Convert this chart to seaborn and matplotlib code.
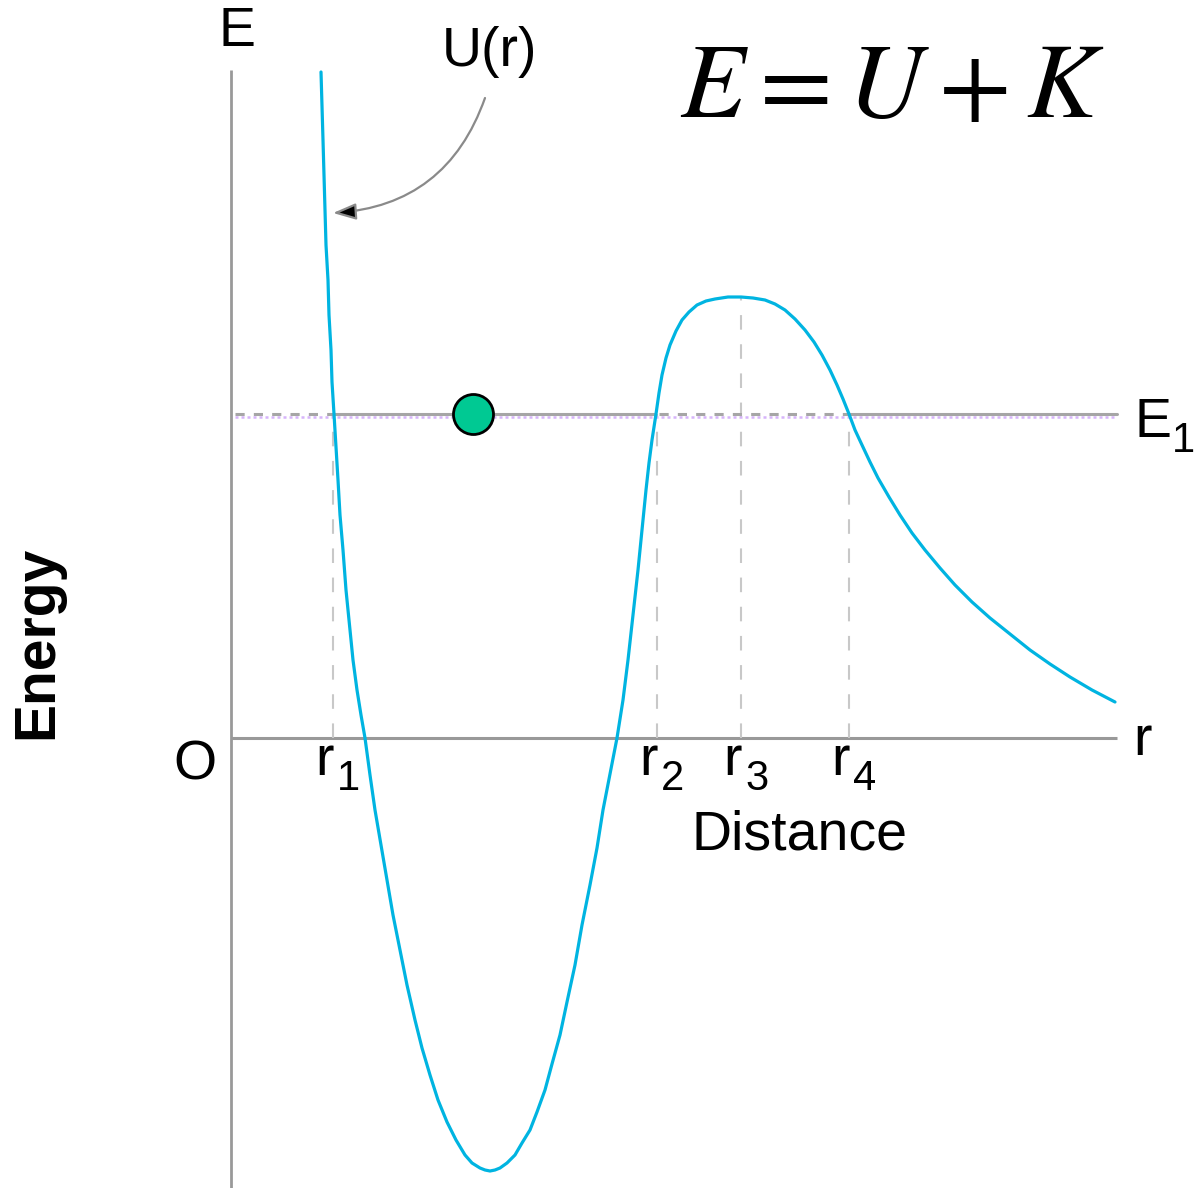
import matplotlib
matplotlib.use("Agg")
import matplotlib.pyplot as plt
import seaborn as sns
import pandas as pd

# Potential energy curve U(r): distance (x) and energy (y), origin at O
r_vals = [0.90, 0.91, 0.92, 0.93, 0.94, 0.95, 0.97, 0.98, 1.00, 1.01, 1.03, 1.05,
          1.07, 1.09, 1.12, 1.15, 1.19, 1.22, 1.26, 1.30, 1.34, 1.39, 1.44, 1.50,
          1.56, 1.62, 1.69, 1.76, 1.84, 1.91, 1.99, 2.07, 2.16, 2.25, 2.34, 2.41,
          2.49, 2.54, 2.59, 2.64, 2.69, 2.76, 2.84, 2.91, 2.99, 3.06, 3.14, 3.21,
          3.29, 3.36, 3.44, 3.51, 3.59, 3.66, 3.72, 3.79, 3.86, 3.92, 3.97, 4.02,
          4.07, 4.11, 4.15, 4.18, 4.21, 4.23, 4.25, 4.28, 4.31, 4.35, 4.39, 4.45,
          4.51, 4.58, 4.66, 4.75, 4.84, 4.97, 5.10, 5.22, 5.34, 5.44, 5.54, 5.64,
          5.74, 5.83, 5.91, 5.99, 6.06, 6.12, 6.18, 6.24, 6.31, 6.39, 6.47, 6.58,
          6.69, 6.81, 6.94, 7.09, 7.24, 7.41, 7.59, 7.79, 7.99, 8.19, 8.39, 8.61,
          8.84]
u_vals = [6.66, 6.32, 5.98, 5.63, 5.28, 4.93, 4.58, 4.23, 3.88, 3.56, 3.24, 2.91,
          2.58, 2.23, 1.88, 1.48, 1.08, 0.78, 0.48, 0.23, 0.00, -0.37, -0.72, -1.07,
          -1.42, -1.77, -2.12, -2.47, -2.82, -3.10, -3.37, -3.62, -3.84, -4.02, -4.17, -4.25,
          -4.30, -4.32, -4.33, -4.32, -4.30, -4.25, -4.17, -4.05, -3.92, -3.74, -3.52, -3.26,
          -2.97, -2.64, -2.27, -1.87, -1.47, -1.10, -0.72, -0.36, 0.00, 0.38, 0.78, 1.23,
          1.68, 2.08, 2.48, 2.75, 2.98, 3.11, 3.24, 3.45, 3.63, 3.80, 3.93, 4.07,
          4.18, 4.26, 4.33, 4.37, 4.39, 4.41, 4.41, 4.40, 4.38, 4.34, 4.28, 4.19,
          4.08, 3.96, 3.83, 3.68, 3.53, 3.39, 3.24, 3.08, 2.93, 2.76, 2.60, 2.41,
          2.23, 2.05, 1.88, 1.70, 1.53, 1.36, 1.20, 1.04, 0.88, 0.74, 0.61, 0.48,
          0.36]

# Energy level and turning points
E1 = 3.24
r_ticks = [1.02, 4.26, 5.10, 6.18]
r_tick_tops = [3.24, 3.24, 4.40, 3.24]
r_tick_labels = ["1", "2", "3", "4"]
particle_r = 2.42

sns.set_theme(style="white")
plt.rcParams["font.family"] = ["Liberation Sans", "DejaVu Sans"]
plt.rcParams["text.color"] = "black"

fig = plt.figure(figsize=(11.94, 11.88), dpi=100)
ax = fig.add_axes([0, 0, 1, 1])
ax.set_xlim(-2.31, 9.63)
ax.set_ylim(-4.50, 7.38)
ax.axis("off")

axis_gray = "#999999"
# Coordinate axes
ax.plot([0, 0], [-4.50, 6.68], color=axis_gray, lw=2.0, solid_capstyle="butt")
ax.plot([0, 8.86], [0, 0], color=axis_gray, lw=2.2, solid_capstyle="butt")

# Dashed guides from the r axis up to the turning points / barrier top
for rt, top in zip(r_ticks, r_tick_tops):
    ax.plot([rt, rt], [0, top], color="#C8C8C8", lw=1.5, dashes=(7, 7))

# Energy level E1: lavender dotted along the whole span
ax.plot([0.04, 8.86], [E1 - 0.03, E1 - 0.03], color="#D7B4FA", lw=1.8, dashes=(1.2, 1.2))
# grey solid where motion is allowed, dashed where it is forbidden
ax.plot([r_ticks[0], r_ticks[1] - 0.02], [E1, E1], color="#A6A6A6", lw=2.2)
ax.plot([r_ticks[3], 8.86], [E1, E1], color="#A6A6A6", lw=2.2)
ax.plot([0.04, r_ticks[0]], [E1, E1], color="#A6A6A6", lw=2.2, dashes=(3, 3))
ax.plot([r_ticks[1] + 0.02, r_ticks[3]], [E1, E1], color="#A6A6A6", lw=2.2, dashes=(3, 3))

# U(r) curve
curve = pd.DataFrame({"r": r_vals, "U": u_vals})
sns.lineplot(data=curve, x="r", y="U", sort=False, color="#00B4E1", lw=2.3,
             solid_joinstyle="round", ax=ax)

# The particle sitting at energy E1
sns.scatterplot(x=[particle_r], y=[E1], s=830, color="#00C993",
                edgecolor="black", linewidth=2, zorder=5, ax=ax)

# Labels
fs = 40
ax.text(0.06, 7.06, "E", fontsize=fs, ha="center", va="center")
ax.text(2.59, 6.86, "U(r)", fontsize=fs, ha="center", va="center")
ax.annotate("", xy=(1.02, 5.25), xytext=(2.54, 6.40),
            arrowprops=dict(arrowstyle="-|>,head_length=0.7,head_width=0.25",
                            connectionstyle="arc3,rad=-0.33",
                            ec="#8A8A8A", fc="black", lw=1.6,
                            shrinkA=0, shrinkB=0, mutation_scale=20))
ax.text(6.61, 6.48, r"$E = U + K$", fontsize=76, ha="center", va="center",
        math_fontfamily="stix")

ax.text(9.04, 3.01, "E", fontsize=fs, ha="left", va="baseline")
ax.text(9.41, 2.86, "1", fontsize=30, ha="left", va="baseline")

ax.text(9.02, -0.17, "r", fontsize=fs, ha="left", va="baseline")
ax.text(-0.36, -0.27, "O", fontsize=fs, ha="center", va="center")
for rt, lab in zip(r_ticks, r_tick_labels):
    ax.text(rt + 0.01, -0.37, "r", fontsize=fs, ha="right", va="baseline")
    ax.text(rt + 0.04, -0.52, lab, fontsize=30, ha="left", va="baseline")

ax.text(5.69, -0.97, "Distance", fontsize=fs, ha="center", va="center")
ax.text(-1.94, 0.96, "Energy", fontsize=41, fontweight="bold",
        rotation=90, ha="center", va="center")

fig.savefig("out.png", dpi=100, facecolor="white")
